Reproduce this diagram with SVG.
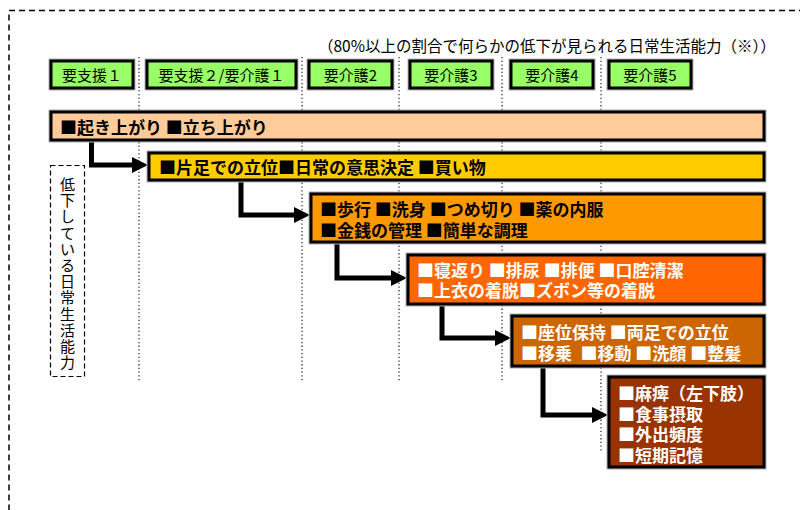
<svg xmlns="http://www.w3.org/2000/svg" width="800" height="510" viewBox="0 0 800 510">
<defs>
<style>
text{font-family:"Noto Sans CJK JP","Noto Sans",sans-serif;fill:#000;}
.lbl{font-size:15px;text-anchor:middle;dominant-baseline:central;}
.bt{font-size:17px;font-weight:bold;dominant-baseline:central;}
.vt{font-size:15px;text-anchor:middle;dominant-baseline:central;}
.w{fill:#fff;}
.halo{fill:none;stroke:#b0b0b0;stroke-width:5;}
.box{stroke:#000;stroke-width:3;}
.g{fill:#99FF66;}
.dot{stroke:#333;stroke-width:1.3;stroke-dasharray:1.3 2.4;fill:none;}
.conn{fill:none;stroke:#000;stroke-width:5;stroke-linejoin:miter;}
</style>
<marker id="arr" markerUnits="userSpaceOnUse" markerWidth="16" markerHeight="16" viewBox="0 0 16 16" refX="6" refY="8" orient="auto">
<path d="M0,0 L16,8 L0,16 Z" fill="#000"/>
</marker>
</defs>
<rect width="800" height="510" fill="#fff"/>
<rect x="9" y="10.5" width="900" height="600" fill="none" stroke="#000" stroke-width="1.5" stroke-dasharray="6 4"/>

<g id="gridlines">
<line class="dot" x1="139" y1="57" x2="139" y2="382"/>
<line class="dot" x1="302" y1="57" x2="302" y2="382"/>
<line class="dot" x1="399" y1="57" x2="399" y2="382"/>
<line class="dot" x1="502" y1="57" x2="502" y2="382"/>
<line class="dot" x1="601" y1="57" x2="601" y2="452"/>
</g>

<text id="note" x="318" y="45" style="font-size:15.5px;dominant-baseline:central;">（80%以上の割合で何らかの低下が見られる日常生活能力（※））</text>

<g id="level1"><rect class="halo" x="51" y="61" width="82" height="27"/><rect class="box g" x="51" y="61" width="82" height="27"/><text class="lbl" x="92" y="74.5">要支援１</text></g>
<g id="level2"><rect class="halo" x="147" y="61" width="149" height="27"/><rect class="box g" x="147" y="61" width="149" height="27"/><text class="lbl" x="221.5" y="74.5">要支援２/要介護１</text></g>
<g id="level3"><rect class="halo" x="309" y="61" width="83" height="27"/><rect class="box g" x="309" y="61" width="83" height="27"/><text class="lbl" x="350.5" y="74.5">要介護2</text></g>
<g id="level4"><rect class="halo" x="410" y="61" width="82" height="27"/><rect class="box g" x="410" y="61" width="82" height="27"/><text class="lbl" x="451" y="74.5">要介護3</text></g>
<g id="level5"><rect class="halo" x="511" y="61" width="82" height="27"/><rect class="box g" x="511" y="61" width="82" height="27"/><text class="lbl" x="552" y="74.5">要介護4</text></g>
<g id="level6"><rect class="halo" x="609" y="61" width="82" height="27"/><rect class="box g" x="609" y="61" width="82" height="27"/><text class="lbl" x="650" y="74.5">要介護5</text></g>

<g id="connectors">
<path class="conn" d="M91.5 140 V165 H138" marker-end="url(#arr)"/>
<path class="conn" d="M241 180 V215 H300" marker-end="url(#arr)"/>
<path class="conn" d="M337 242 V278 H397" marker-end="url(#arr)"/>
<path class="conn" d="M442 304 V338 H501" marker-end="url(#arr)"/>
<path class="conn" d="M543 366 V415 H598" marker-end="url(#arr)"/>
</g>

<g id="bar1"><rect class="halo" x="51" y="112" width="713" height="28"/><rect class="box" fill="#FFCC99" x="51" y="112" width="713" height="28"/><text class="bt" x="60" y="126">■起き上がり ■立ち上がり</text></g>
<g id="bar2"><rect class="halo" x="149" y="153" width="615" height="27"/><rect class="box" fill="#FFCC00" x="149" y="153" width="615" height="27"/><text class="bt" x="159" y="166.5">■片足での立位■日常の意思決定 ■買い物</text></g>
<g id="bar3"><rect class="halo" x="311" y="194" width="453" height="48"/><rect class="box" fill="#FF9900" x="311" y="194" width="453" height="48"/><text class="bt"><tspan x="320" y="208">■歩行 ■洗身 ■つめ切り ■薬の内服</tspan><tspan x="320" y="228.5">■金銭の管理 ■簡単な調理</tspan></text></g>
<g id="bar4"><rect class="halo" x="408" y="255" width="356" height="49"/><rect class="box" fill="#FF6600" x="408" y="255" width="356" height="49"/><text class="bt w"><tspan x="417" y="268.5">■寝返り ■排尿 ■排便 ■口腔清潔</tspan><tspan x="417" y="289">■上衣の着脱■ズボン等の着脱</tspan></text></g>
<g id="bar5"><rect class="halo" x="512" y="316" width="252" height="50"/><rect class="box" fill="#CC6600" x="512" y="316" width="252" height="50"/><text class="bt w"><tspan x="521" y="331">■座位保持 ■両足での立位</tspan><tspan x="521" y="351.5">■移乗&#x2002;■移動 ■洗顔 ■整髪</tspan></text></g>
<g id="bar6"><rect class="halo" x="609" y="377" width="155" height="90"/><rect class="box" fill="#993300" x="609" y="377" width="155" height="90"/><text class="bt w"><tspan x="618" y="392">■麻痺（左下肢）</tspan><tspan x="618" y="412.5">■食事摂取</tspan><tspan x="618" y="433">■外出頻度</tspan><tspan x="618" y="453.5">■短期記憶</tspan></text></g>

<g id="sidelabel">
<rect x="50.5" y="165.5" width="34" height="211" fill="none" stroke="#000" stroke-width="1.2" stroke-dasharray="5 3"/>
<text class="vt"><tspan x="67.5" y="183">低</tspan><tspan x="67.5" y="199.2">下</tspan><tspan x="67.5" y="215.4">し</tspan><tspan x="67.5" y="231.6">て</tspan><tspan x="67.5" y="247.8">い</tspan><tspan x="67.5" y="264">る</tspan><tspan x="67.5" y="280.2">日</tspan><tspan x="67.5" y="296.4">常</tspan><tspan x="67.5" y="312.6">生</tspan><tspan x="67.5" y="328.8">活</tspan><tspan x="67.5" y="345">能</tspan><tspan x="67.5" y="361.2">力</tspan></text>
</g>
</svg>
